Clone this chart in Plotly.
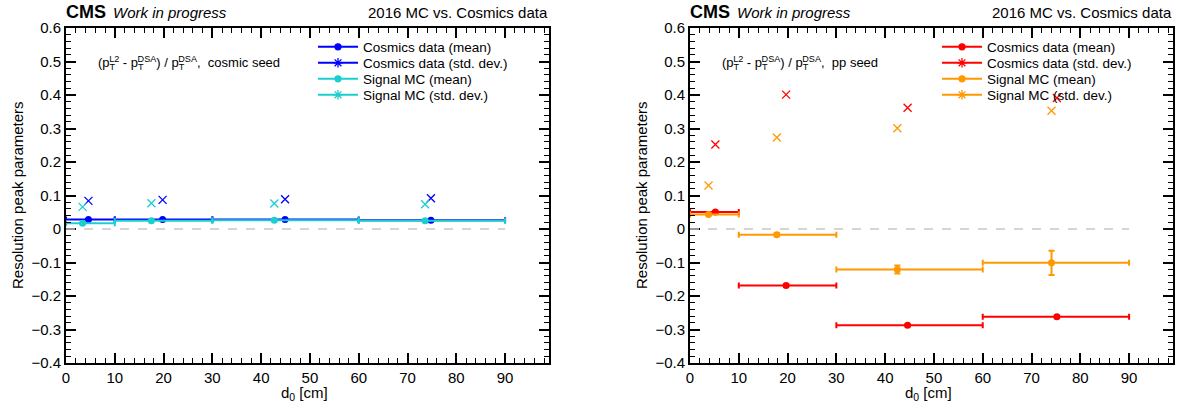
import plotly.graph_objects as go

# ---------------- data ----------------
bin_lo = [0, 10, 30, 60]
bin_hi = [10, 30, 60, 90]

# left panel: cosmic seed
cos_x_L = [4.6, 19.8, 44.9, 74.8]
cos_mean_L = [0.028, 0.028, 0.028, 0.026]
cos_mean_err_L = [0.001, 0.001, 0.001, 0.001]
cos_std_L = [0.084, 0.087, 0.089, 0.092]
sig_x_L = [3.4, 17.5, 42.7, 73.6]
sig_mean_L = [0.017, 0.025, 0.026, 0.025]
sig_mean_err_L = [0.001, 0.001, 0.001, 0.001]
sig_std_L = [0.066, 0.077, 0.076, 0.074]

# right panel: pp seed
cos_x_R = [5.2, 19.7, 44.6, 75.2]
cos_mean_R = [0.051, -0.169, -0.287, -0.262]
cos_mean_err_R = [0.003, 0.004, 0.003, 0.004]
cos_std_R = [0.252, 0.401, 0.362, 0.391]
sig_x_R = [3.8, 17.8, 42.5, 74.1]
sig_mean_R = [0.043, -0.017, -0.121, -0.101]
sig_mean_err_R = [0.002, 0.004, 0.012, 0.036]
sig_std_R = [0.130, 0.273, 0.301, 0.353]

legend_names = ["Cosmics data (mean)", "Cosmics data (std. dev.)",
                "Signal MC (mean)", "Signal MC (std. dev.)"]
seed_labels = ["cosmic seed", "pp seed"]
zero_line_x = [0, 90]

# ---------------- style ----------------
FONT = "Liberation Sans, Arial, Helvetica, sans-serif"
BLUE, CYAN, RED, ORANGE = "#0000ff", "#1ccfcf", "#ff0000", "#ff9900"
W, H = 1181, 410
pxL = (66, 549)
pxR = (690, 1173)
py = (28, 363)
legend_rows_px = [47, 63, 79, 95]

fig = go.Figure()
layout_legends = {}


def add_panel(panel, xa, ya, px, colors, cx, cm, ce, cs, sx, sm, se, ss):
    for (x, m, e, s, col) in [(cx, cm, ce, cs, colors[0]), (sx, sm, se, ss, colors[1])]:
        plus = [h - xi for h, xi in zip(bin_hi, x)]
        minus = [xi - l for l, xi in zip(bin_lo, x)]
        fig.add_trace(go.Scatter(
            x=x, y=m, mode="markers", xaxis=xa, yaxis=ya, showlegend=False,
            marker=dict(symbol="circle", size=7, color=col),
            error_x=dict(type="data", symmetric=False, array=plus, arrayminus=minus,
                         color=col, thickness=2, width=3),
            error_y=dict(type="data", array=e, color=col, thickness=2, width=3),
        ))
        fig.add_trace(go.Scatter(
            x=x, y=s, mode="markers", xaxis=xa, yaxis=ya, showlegend=False,
            marker=dict(symbol="x-thin-open", size=8, color=col,
                        line=dict(color=col, width=1.3)),
        ))
    # legend entries: one legend per row for exact spacing
    specs = [(colors[0], "circle", 6), (colors[0], "asterisk-open", 8),
             (colors[1], "circle", 6), (colors[1], "asterisk-open", 8)]
    for k, (name, (col, sym, sz)) in enumerate(zip(legend_names, specs)):
        idx = panel * 4 + k + 1
        key = "legend" if idx == 1 else f"legend{idx}"
        fig.add_trace(go.Scatter(
            x=[None], y=[None], mode="lines+markers", name=name, legend=key,
            xaxis=xa, yaxis=ya,
            line=dict(color=col, width=2),
            marker=dict(symbol=sym, size=sz, color=col, line=dict(color=col, width=1.3)),
        ))
        layout_legends[key] = dict(
            x=(px[0] + 247) / W, y=1 - legend_rows_px[k] / H, xanchor="left",
            yanchor="middle", bgcolor="rgba(0,0,0,0)", borderwidth=0, itemwidth=40,
            font=dict(family=FONT, size=13.5, color="black"))


add_panel(0, "x", "y", pxL, (BLUE, CYAN), cos_x_L, cos_mean_L, cos_mean_err_L, cos_std_L,
          sig_x_L, sig_mean_L, sig_mean_err_L, sig_std_L)
add_panel(1, "x2", "y2", pxR, (RED, ORANGE), cos_x_R, cos_mean_R, cos_mean_err_R, cos_std_R,
          sig_x_R, sig_mean_R, sig_mean_err_R, sig_std_R)

ydom = [(H - py[1]) / H, (H - py[0]) / H]


def xaxis(px, anchor):
    return dict(domain=[px[0] / W, px[1] / W], anchor=anchor, range=[0, 99],
                automargin=False,
                tickvals=list(range(0, 100, 10)), ticks="inside", ticklen=10, tickwidth=1.5,
                tickcolor="black", showline=True, linecolor="black", linewidth=2,
                mirror="allticks", showgrid=False, zeroline=False,
                minor=dict(dtick=2, ticks="inside", ticklen=5, tickwidth=1.2,
                           tickcolor="black", showgrid=False),
                tickfont=dict(family=FONT, size=15, color="black"))


def yaxis(anchor):
    return dict(domain=ydom, anchor=anchor, range=[-0.4, 0.6], automargin=False,
                tickvals=[-0.4, -0.3, -0.2, -0.1, 0, 0.1, 0.2, 0.3, 0.4, 0.5, 0.6],
                ticktext=["\u22120.4", "\u22120.3", "\u22120.2", "\u22120.1", "0",
                          "0.1", "0.2", "0.3", "0.4", "0.5", "0.6"],
                ticks="inside", ticklen=10, tickwidth=1.5, tickcolor="black",
                showline=True, linecolor="black", linewidth=2, mirror="allticks",
                showgrid=False, zeroline=False,
                minor=dict(dtick=0.02, ticks="inside", ticklen=5, tickwidth=1.2,
                           tickcolor="black", showgrid=False),
                tickfont=dict(family=FONT, size=15, color="black"))


def pt(sup):
    # stacked sub "T" and superscript label
    return ('p<sub><span style="letter-spacing:-6px">T</span></sub>'
            '<sup>' + sup + '</sup>')


shapes = []
annotations = []
for i, (px, xr, yr) in enumerate([(pxL, "x", "y"), (pxR, "x2", "y2")]):
    shapes.append(dict(type="line", xref=xr, yref=yr, x0=zero_line_x[0], x1=zero_line_x[1],
                       y0=0, y1=0, line=dict(color="#c8c8c8", width=1.5, dash="dash")))
    annotations += [
        dict(text="<b>CMS</b>", x=(px[0] - 2) / W, y=1 - 12 / H, xref="paper", yref="paper",
             xanchor="left", yanchor="middle", showarrow=False,
             font=dict(family=FONT, size=18, color="black")),
        dict(text="<i>Work in progress</i>", x=(px[0] + 45) / W, y=1 - 12 / H,
             xref="paper", yref="paper", xanchor="left", yanchor="middle", showarrow=False,
             font=dict(family=FONT, size=15, color="black")),
        dict(text="2016 MC vs. Cosmics data", x=(px[1] + 1) / W, y=1 - 12 / H,
             xref="paper", yref="paper", xanchor="right", yanchor="middle", showarrow=False,
             font=dict(family=FONT, size=15, color="black")),
        dict(text="d<sub>0</sub> [cm]", x=(px[0] + px[1] - 6) / 2 / W, y=1 - 393 / H,
             xref="paper", yref="paper", xanchor="center", yanchor="middle", showarrow=False,
             font=dict(family=FONT, size=15, color="black")),
        dict(text="Resolution peak parameters", x=(px[0] - 49) / W, y=1 - 195 / H,
             xref="paper", yref="paper", xanchor="center", yanchor="middle", showarrow=False,
             textangle=-90, font=dict(family=FONT, size=15, color="black")),
        dict(text="(" + pt("L2") + " - " + pt("DSA") + ") / " + pt("DSA") + ",  "
                  + seed_labels[i],
             x=(px[0] + 30) / W, y=1 - 62 / H, xref="paper", yref="paper",
             xanchor="left", yanchor="middle", showarrow=False,
             font=dict(family=FONT, size=13, color="black")),
    ]

fig.update_layout(
    width=W, height=H, margin=dict(l=0, r=0, t=0, b=0, autoexpand=False),
    paper_bgcolor="white", plot_bgcolor="white",
    xaxis=xaxis(pxL, "y"), yaxis=yaxis("x"),
    xaxis2=xaxis(pxR, "y2"), yaxis2=yaxis("x2"),
    shapes=shapes, annotations=annotations,
    **layout_legends,
)

fig.write_html("out.html")
